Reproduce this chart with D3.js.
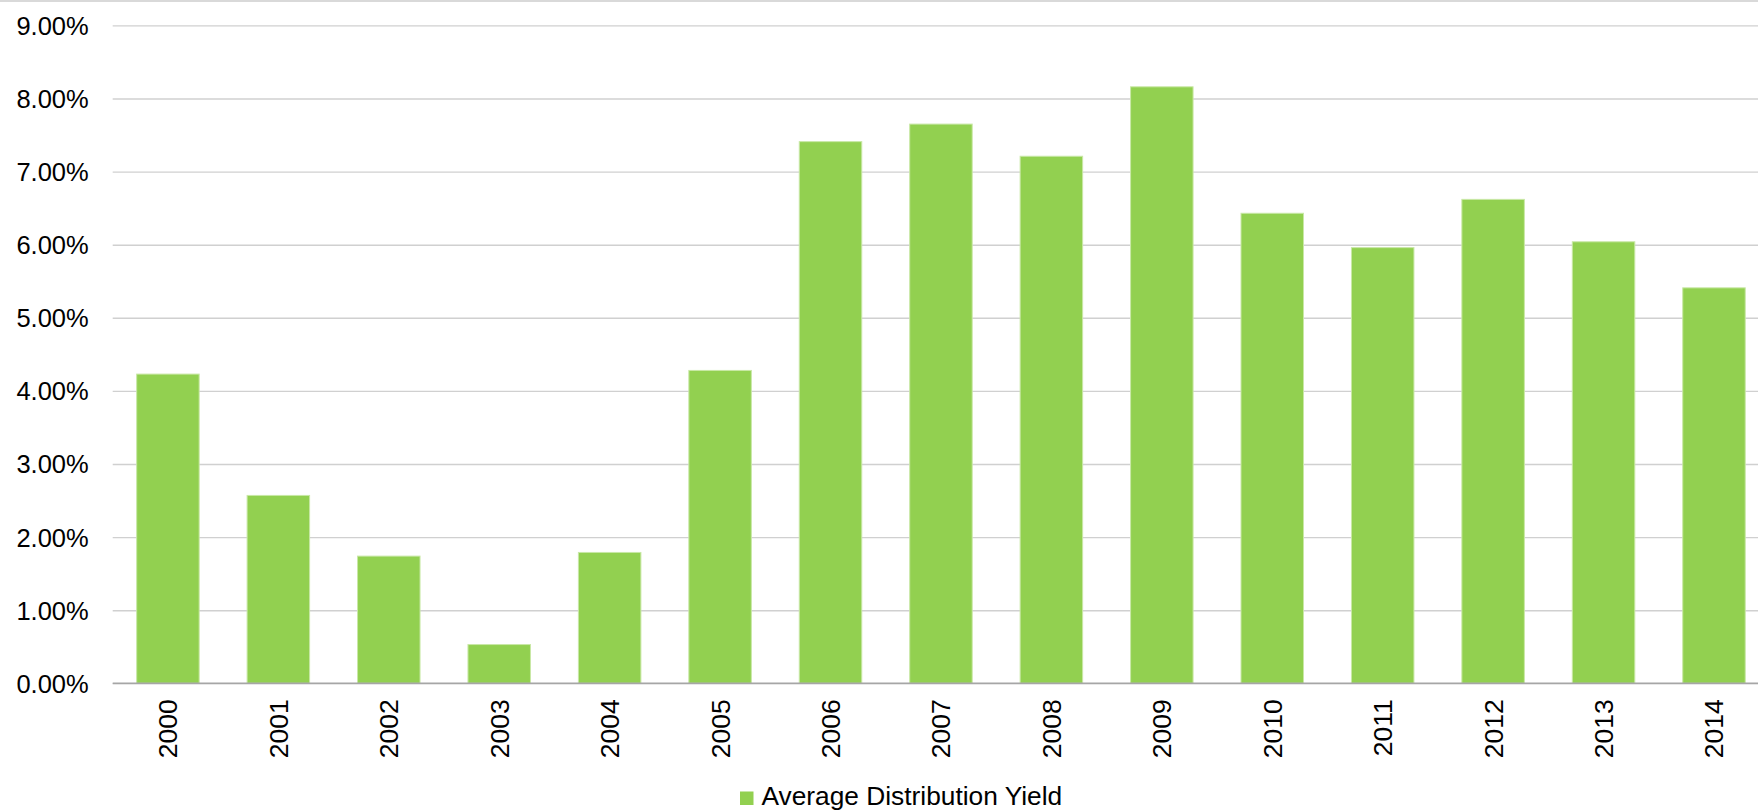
<!DOCTYPE html>
<html>
<head>
<meta charset="utf-8">
<script src="https://cdn.jsdelivr.net/npm/d3@7"></script>
<style>
  html, body { margin: 0; padding: 0; background: #fff; }
  svg { display: block; }
  text { font-family: "Liberation Sans", Arial, sans-serif; fill: #000; }
</style>
</head>
<body>
<svg id="chart" width="1758" height="810"></svg>
<script>
// Average distribution yield by year
const years = ["2000", "2001", "2002", "2003", "2004", "2005", "2006", "2007",
               "2008", "2009", "2010", "2011", "2012", "2013", "2014"];
const yieldValues = [0.0423, 0.0257, 0.0174, 0.0053, 0.0179, 0.0428, 0.0741, 0.0765,
                     0.0721, 0.0816, 0.0643, 0.0596, 0.0662, 0.0604, 0.0541];
const yTicks = [0, 0.01, 0.02, 0.03, 0.04, 0.05, 0.06, 0.07, 0.08, 0.09];
const seriesName = "Average Distribution Yield";
const barColor = "#92d050";

const W = 1758, H = 810;
const plot = { left: 112.7, right: 1769.2, top: 25.4, bottom: 683.3 };

const svg = d3.select("#chart");

// chart frame line along the top edge
svg.append("line")
  .attr("x1", 0).attr("x2", W)
  .attr("y1", 1).attr("y2", 1)
  .attr("stroke", "#d9d9d9").attr("stroke-width", 2);

const x = d3.scaleBand()
  .domain(years)
  .range([plot.left, plot.right])
  .paddingInner(0.434)
  .paddingOuter(0.217);

const y = d3.scaleLinear()
  .domain([0, 0.09])
  .range([plot.bottom, plot.top]);

// horizontal gridlines + value labels
const yAxis = d3.axisLeft(y)
  .tickValues(yTicks)
  .tickFormat(d3.format(".2%"))
  .tickSize(-(W - plot.left))
  .tickPadding(24);

const gy = svg.append("g")
  .attr("transform", `translate(${plot.left},0)`)
  .call(yAxis);
gy.select(".domain").remove();
gy.selectAll(".tick line")
  .attr("stroke", "#d0d0d0")
  .attr("stroke-width", 1.4);
gy.selectAll(".tick text")
  .attr("font-size", 25.5)
  .attr("fill", "#111")
  .attr("dy", "0.35em");

// bars
svg.append("g").selectAll("rect")
  .data(years.map((yr, i) => ({ yr, v: yieldValues[i] })))
  .join("rect")
  .attr("x", d => x(d.yr))
  .attr("width", x.bandwidth())
  .attr("y", d => y(d.v))
  .attr("height", d => y(0) - y(d.v))
  .attr("fill", barColor)
  .attr("stroke", "#c9e8a6")
  .attr("stroke-width", 1);

// category axis
const xAxis = d3.axisBottom(x).tickSize(0).tickPadding(0);
const gx = svg.append("g")
  .attr("transform", `translate(0,${plot.bottom})`)
  .call(xAxis);
gx.select(".domain").remove();
gx.append("line")
  .attr("x1", plot.left).attr("x2", W)
  .attr("y1", 0).attr("y2", 0)
  .attr("stroke", "#a6a6a6").attr("stroke-width", 1.5);
gx.selectAll(".tick text")
  .attr("font-size", 26.5)
  .attr("fill", "#111")
  .attr("text-anchor", "end")
  .attr("transform", "translate(9.5,16) rotate(-90)")
  .attr("dy", 0)
  .attr("x", 0)
  .attr("y", 0);

// legend
const legend = svg.append("g").attr("transform", "translate(740,805)");
legend.append("rect")
  .attr("x", 0).attr("y", -13.5)
  .attr("width", 13.5).attr("height", 13.5)
  .attr("fill", barColor);
legend.append("text")
  .attr("x", 21.5).attr("y", 0)
  .attr("font-size", 26.3)
  .attr("fill", "#111")
  .text(seriesName);
</script>
</body>
</html>
